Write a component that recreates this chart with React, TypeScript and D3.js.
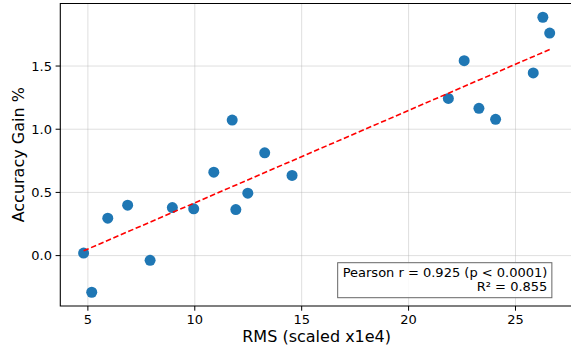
// Scatter of accuracy gain vs RMS with a least-squares trend line
import { useRef, useEffect } from "react";
import * as d3 from "d3";

// RMS values (scaled x1e4)
const rmsValues = [
  4.8, 5.18, 5.93, 6.86, 7.91, 8.95, 9.95, 10.89, 11.75, 11.92, 12.48, 13.27,
  14.55, 21.86, 22.6, 23.29, 24.07, 25.83, 26.28, 26.6,
];
// Accuracy gain in %, same order as rmsValues
const gainValues = [
  0.02, -0.29, 0.296, 0.399, -0.037, 0.38, 0.37, 0.66, 1.072, 0.364, 0.494,
  0.813, 0.634, 1.244, 1.542, 1.165, 1.078, 1.445, 1.886, 1.761,
];
const xTicks = [5, 10, 15, 20, 25];
const yTicks = [0.0, 0.5, 1.0, 1.5];
const statLines = ["Pearson r = 0.925 (p < 0.0001)", "R² = 0.855"];

const WIDTH = 571;
const HEIGHT = 347;

export default function App() {
  const ref = useRef<SVGSVGElement>(null);

  useEffect(() => {
    const svg = d3.select(ref.current);
    svg.selectAll("*").remove();

    const font = "DejaVu Sans, sans-serif";
    // plot area (right edge runs past the window, like the original)
    const left = 60.3;
    const right = 573;
    const top = 3.5;
    const bottom = 306;

    const points = rmsValues.map((x, i) => ({ x, y: gainValues[i] }));

    // matplotlib-ish 5% margins around data
    const [xMin, xMax] = d3.extent(rmsValues) as [number, number];
    const [yMin, yMax] = d3.extent(gainValues) as [number, number];
    const xPad = (xMax - xMin) * 0.05;
    const yPad = (yMax - yMin) * 0.05;

    const x = d3
      .scaleLinear()
      .domain([xMin - xPad, xMax + xPad])
      .range([left, right]);
    const y = d3
      .scaleLinear()
      .domain([yMin - yPad, yMax + yPad])
      .range([bottom, top]);

    // grid
    const grid = svg.append("g");
    xTicks.forEach((t) => {
      grid
        .append("line")
        .attr("x1", x(t))
        .attr("x2", x(t))
        .attr("y1", top)
        .attr("y2", bottom)
        .attr("stroke", "#b0b0b0")
        .attr("stroke-opacity", 0.4)
        .attr("stroke-width", 1);
    });
    yTicks.forEach((t) => {
      grid
        .append("line")
        .attr("x1", left)
        .attr("x2", right)
        .attr("y1", y(t))
        .attr("y2", y(t))
        .attr("stroke", "#b0b0b0")
        .attr("stroke-opacity", 0.4)
        .attr("stroke-width", 1);
    });

    // least-squares fit
    const mx = d3.mean(rmsValues) as number;
    const my = d3.mean(gainValues) as number;
    let sxy = 0;
    let sxx = 0;
    points.forEach((p) => {
      sxy += (p.x - mx) * (p.y - my);
      sxx += (p.x - mx) * (p.x - mx);
    });
    const slope = sxy / sxx;
    const intercept = my - slope * mx;

    // points
    svg
      .append("g")
      .selectAll("circle")
      .data(points)
      .join("circle")
      .attr("cx", (d) => x(d.x))
      .attr("cy", (d) => y(d.y))
      .attr("r", 5.5)
      .attr("fill", "#1f77b4");

    // trend line
    const fitLine = d3
      .line<number>()
      .x((d) => x(d))
      .y((d) => y(slope * d + intercept));
    svg
      .append("path")
      .datum([xMin, xMax])
      .attr("d", fitLine)
      .attr("fill", "none")
      .attr("stroke", "red")
      .attr("stroke-width", 1.6)
      .attr("stroke-dasharray", "5.5,2.6");

    // spines
    svg
      .append("path")
      .attr("d", `M${right},${top}H${left}V${bottom}H${right}`)
      .attr("fill", "none")
      .attr("stroke", "#000")
      .attr("stroke-width", 1.1);

    // x ticks
    xTicks.forEach((t) => {
      svg
        .append("line")
        .attr("x1", x(t))
        .attr("x2", x(t))
        .attr("y1", bottom)
        .attr("y2", bottom + 4.7)
        .attr("stroke", "#000")
        .attr("stroke-width", 1);
      svg
        .append("text")
        .attr("x", x(t))
        .attr("y", 324)
        .attr("text-anchor", "middle")
        .style("font-family", font)
        .style("font-size", "13px")
        .text(String(t));
    });

    // y ticks
    yTicks.forEach((t) => {
      svg
        .append("line")
        .attr("x1", left - 4.7)
        .attr("x2", left)
        .attr("y1", y(t))
        .attr("y2", y(t))
        .attr("stroke", "#000")
        .attr("stroke-width", 1);
      svg
        .append("text")
        .attr("x", 52)
        .attr("y", y(t))
        .attr("text-anchor", "end")
        .attr("dominant-baseline", "central")
        .style("font-family", font)
        .style("font-size", "13px")
        .text(d3.format(".1f")(t));
    });

    // axis labels
    svg
      .append("text")
      .attr("x", (left + right) / 2)
      .attr("y", 342)
      .attr("text-anchor", "middle")
      .style("font-family", font)
      .style("font-size", "16px")
      .text("RMS (scaled x1e4)");
    svg
      .append("text")
      .attr("transform", `translate(24,${(top + bottom) / 2}) rotate(-90)`)
      .attr("text-anchor", "middle")
      .style("font-family", font)
      .style("font-size", "16px")
      .text("Accuracy Gain %");

    // stats box, anchored bottom-right in axes fraction
    const textRight = right - (right - left) * 0.05;
    const box = svg.append("g");
    const rect = box.append("rect");
    const txt = box
      .append("text")
      .attr("text-anchor", "end")
      .style("font-family", font)
      .style("font-size", "13px");
    statLines.forEach((line, i) => {
      txt
        .append("tspan")
        .attr("x", textRight)
        .attr("y", 276.7 + i * 14)
        .text(line);
    });
    const bb = (txt.node() as SVGTextElement).getBBox();
    rect
      .attr("x", bb.x - 5)
      .attr("y", 262.7)
      .attr("width", bb.width + 9.5)
      .attr("height", 35)
      .attr("fill", "#fff")
      .attr("fill-opacity", 0.85)
      .attr("stroke", "#666")
      .attr("stroke-width", 1);
  }, []);

  return (
    <svg
      ref={ref}
      width={WIDTH}
      height={HEIGHT}
      style={{ position: "absolute", left: 0, top: 0, background: "#fff" }}
    ></svg>
  );
}
